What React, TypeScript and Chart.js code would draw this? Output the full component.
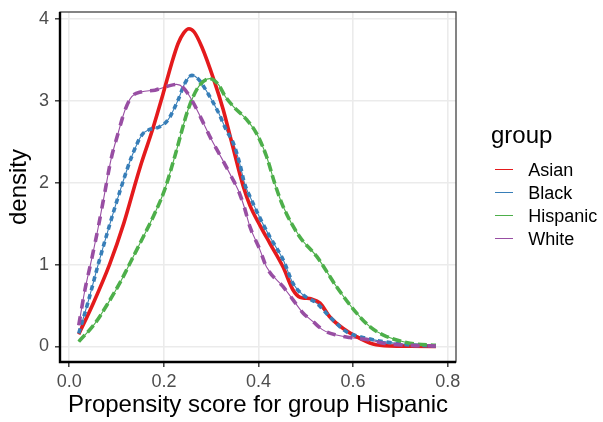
import React, { useEffect, useRef } from "react";
import { Chart, registerables } from "chart.js";

Chart.register(...registerables);

const FONT = '"Liberation Sans", Arial, Helvetica, sans-serif';

const groupNames = ["Asian", "Black", "Hispanic", "White"];
const groupColors = ["#E41A1C", "#377EB8", "#4DAF4A", "#984EA3"];
const groupDashes: number[][] = [[], [5, 4], [9, 4], [9, 8]];

const xTickValues = [0, 0.2, 0.4, 0.6, 0.8];
const yTickValues = [0, 1, 2, 3, 4];

const asianX = [0.02, 0.05, 0.085, 0.115, 0.142, 0.153, 0.176, 0.199, 0.216, 0.23, 0.242, 0.253, 0.264, 0.28, 0.306, 0.325, 0.343, 0.368, 0.382, 0.403, 0.424, 0.452, 0.473, 0.488, 0.5, 0.512, 0.53, 0.551, 0.579, 0.607, 0.642, 0.678, 0.72, 0.775];
const asianY = [0.15, 0.52, 1.0, 1.5, 2.04, 2.25, 2.65, 3.1, 3.45, 3.7, 3.83, 3.88, 3.84, 3.66, 3.25, 2.9, 2.5, 1.95, 1.72, 1.48, 1.26, 0.97, 0.69, 0.6, 0.59, 0.58, 0.53, 0.36, 0.22, 0.12, 0.03, 0.006, 0.003, 0.002];

const blackX = [0.02, 0.04, 0.061, 0.085, 0.11, 0.132, 0.153, 0.17, 0.19, 0.209, 0.23, 0.244, 0.259, 0.272, 0.294, 0.315, 0.332, 0.347, 0.36, 0.371, 0.382, 0.403, 0.424, 0.452, 0.473, 0.494, 0.523, 0.551, 0.586, 0.629, 0.664, 0.72, 0.775];
const blackY = [0.16, 0.55, 1.0, 1.48, 1.95, 2.32, 2.58, 2.65, 2.68, 2.77, 3.01, 3.21, 3.31, 3.27, 3.08, 2.86, 2.64, 2.48, 2.24, 1.98, 1.83, 1.57, 1.34, 1.06, 0.77, 0.63, 0.53, 0.36, 0.18, 0.1, 0.06, 0.02, 0.006];

const hispanicX = [0.02, 0.054, 0.082, 0.11, 0.132, 0.153, 0.181, 0.202, 0.223, 0.251, 0.273, 0.297, 0.315, 0.33, 0.347, 0.375, 0.396, 0.417, 0.435, 0.452, 0.487, 0.523, 0.565, 0.607, 0.636, 0.664, 0.72, 0.775];
const hispanicY = [0.06, 0.28, 0.53, 0.81, 1.06, 1.3, 1.63, 1.92, 2.32, 2.89, 3.17, 3.27, 3.2, 3.05, 2.93, 2.77, 2.6, 2.32, 1.98, 1.71, 1.34, 1.1, 0.73, 0.41, 0.24, 0.14, 0.04, 0.015];

const whiteX = [0.02, 0.033, 0.047, 0.061, 0.075, 0.088, 0.103, 0.118, 0.132, 0.153, 0.181, 0.209, 0.227, 0.241, 0.259, 0.28, 0.301, 0.322, 0.343, 0.357, 0.37, 0.382, 0.403, 0.417, 0.452, 0.473, 0.494, 0.516, 0.537, 0.565, 0.593, 0.635, 0.664, 0.72, 0.775];
const whiteY = [0.26, 0.69, 1.06, 1.45, 1.88, 2.28, 2.6, 2.89, 3.05, 3.11, 3.13, 3.18, 3.2, 3.16, 3.01, 2.77, 2.52, 2.3, 2.07, 1.91, 1.7, 1.46, 1.18, 0.97, 0.73, 0.57, 0.41, 0.3, 0.2, 0.14, 0.11, 0.08, 0.04, 0.015, 0.006];

const seriesX = [asianX, blackX, hispanicX, whiteX];
const seriesY = [asianY, blackY, hispanicY, whiteY];

const toPoints = (xs: number[], ys: number[]) => xs.map((x, i) => ({ x, y: ys[i] }));

const framePlugin = {
  id: "panelFrame",
  afterDatasetsDraw(chart: any) {
    const { ctx, chartArea } = chart;
    const { left, right, top, bottom } = chartArea;
    ctx.save();
    ctx.strokeStyle = "#333333";
    ctx.lineWidth = 1.2;
    ctx.strokeRect(left, top, right - left, bottom - top);
    ctx.strokeStyle = "#000000";
    ctx.lineWidth = 2.4;
    ctx.beginPath();
    ctx.moveTo(left, top);
    ctx.lineTo(left, bottom);
    ctx.lineTo(right, bottom);
    ctx.stroke();
    ctx.restore();
  },
};

export default function App() {
  const ref = useRef<HTMLCanvasElement>(null);

  useEffect(() => {
    const canvas = ref.current;
    if (!canvas) return;
    const thin = groupNames.map((name, i) => ({
      label: name + " line",
      data: toPoints(seriesX[i], seriesY[i]),
      borderColor: groupColors[i],
      borderWidth: 1.1,
      pointRadius: 0,
      fill: false,
      cubicInterpolationMode: "monotone" as const,
      order: 10 + (3 - i),
    }));
    const thick = groupNames.map((name, i) => ({
      label: name,
      data: toPoints(seriesX[i], seriesY[i]),
      borderColor: groupColors[i],
      borderWidth: 3.6,
      borderDash: groupDashes[i],
      borderCapStyle: "butt" as const,
      pointRadius: 0,
      fill: false,
      cubicInterpolationMode: "monotone" as const,
      order: 3 - i,
    }));

    const chart = new Chart(canvas, {
      type: "line",
      data: { datasets: [...thin, ...thick] as any },
      options: {
        animation: false,
        responsive: false,
        devicePixelRatio: 1,
        layout: { padding: { left: 0, right: 147, top: 12, bottom: 0 } },
        plugins: { legend: { display: false }, tooltip: { enabled: false } },
        scales: {
          x: {
            type: "linear",
            min: -0.01966,
            max: 0.8175,
            afterBuildTicks: (s: any) => {
              s.ticks = xTickValues.map((v) => ({ value: v }));
            },
            afterFit: (s: any) => {
              s.height = 60;
              s.paddingLeft = 0;
              s.paddingRight = 0;
            },
            border: { display: false },
            grid: {
              color: "#EBEBEB",
              lineWidth: 1.6,
              tickColor: "#333333",
              tickWidth: 1.4,
              tickLength: 5,
            },
            ticks: {
              color: "#4D4D4D",
              font: { family: FONT, size: 18 },
              padding: 4.5,
              maxRotation: 0,
              callback: (v: any) => Number(v).toFixed(1),
            },
            title: {
              display: true,
              text: "Propensity score for group Hispanic",
              color: "#000000",
              font: { family: FONT, size: 24 },
              padding: { top: 0, bottom: 2.5 },
            },
          },
          y: {
            type: "linear",
            min: -0.189,
            max: 4.084,
            afterBuildTicks: (s: any) => {
              s.ticks = yTickValues.map((v) => ({ value: v }));
            },
            afterFit: (s: any) => {
              s.width = 60;
              s.paddingTop = 0;
              s.paddingBottom = 0;
            },
            border: { display: false },
            grid: {
              color: "#EBEBEB",
              lineWidth: 1.6,
              tickColor: "#333333",
              tickWidth: 1.4,
              tickLength: 5,
            },
            ticks: {
              color: "#4D4D4D",
              font: { family: FONT, size: 18 },
              padding: 6,
              callback: (v: any) => String(v),
            },
            title: {
              display: true,
              text: "density",
              color: "#000000",
              font: { family: FONT, size: 24 },
              padding: { top: 4.5, bottom: 0 },
            },
          },
        },
      },
      plugins: [framePlugin],
    });
    return () => chart.destroy();
  }, []);

  return (
    <div style={{ position: "fixed", left: 0, top: 0, width: 603, height: 422, background: "#fff", fontFamily: FONT }}>
      <canvas ref={ref} width={603} height={422} style={{ position: "absolute", left: 0, top: 0, width: 603, height: 422 }} />
      <div style={{ position: "absolute", left: 491, top: 123, fontSize: 24, lineHeight: "24px", color: "#000", whiteSpace: "nowrap" }}>group</div>
      {groupNames.map((name, i) => (
        <div key={name} style={{ position: "absolute", left: 490, top: 158.8 + 23 * i, height: 23, width: 113 }}>
          <div style={{ position: "absolute", left: 5, top: 10, width: 18, height: 1.1, background: groupColors[i] }} />
          <div style={{ position: "absolute", left: 38.3, top: 0, fontSize: 18, lineHeight: "23px", color: "#000", whiteSpace: "nowrap" }}>{name}</div>
        </div>
      ))}
    </div>
  );
}
